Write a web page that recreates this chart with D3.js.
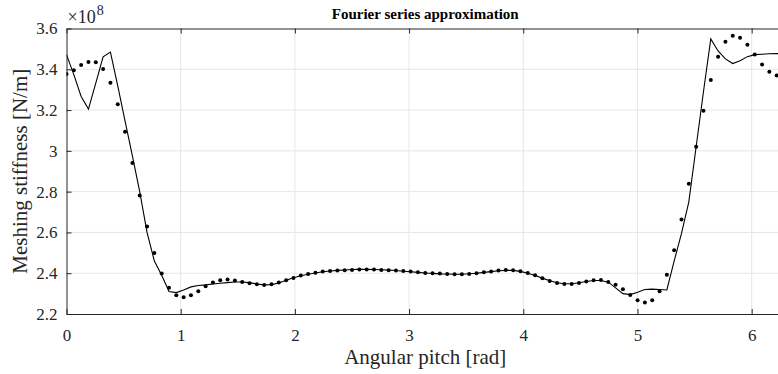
<!DOCTYPE html>
<html>
<head>
<meta charset="utf-8">
<script src="https://cdn.jsdelivr.net/npm/d3@7/dist/d3.min.js"></script>
<style>
  html, body { margin: 0; padding: 0; background: #fff; }
  svg { display: block; }
  svg text { font-family: "Liberation Serif", "Times New Roman", serif; }
</style>
</head>
<body>
<svg id="chart" width="778" height="374"></svg>
<script>
// Meshing stiffness over one angular pitch (units of 1e8 N/m), 99 samples from 0 to 2*pi
const sampleCount = 99;
const stiffnessSamples = [
  3.377, 3.395, 3.421, 3.436, 3.434, 3.402, 3.334, 3.229, 3.094, 2.940,
  2.781, 2.629, 2.499, 2.398, 2.329, 2.292, 2.282, 2.292, 2.311, 2.336,
  2.354, 2.366, 2.369, 2.364, 2.357, 2.351, 2.346, 2.342, 2.346, 2.354,
  2.366, 2.377, 2.389, 2.396, 2.402, 2.408, 2.411, 2.413, 2.415, 2.416,
  2.418, 2.418, 2.418, 2.416, 2.415, 2.413, 2.411, 2.408, 2.405, 2.401,
  2.400, 2.398, 2.396, 2.395, 2.395, 2.396, 2.400, 2.405, 2.408, 2.413,
  2.416, 2.415, 2.410, 2.401, 2.390, 2.375, 2.362, 2.352, 2.347, 2.347,
  2.352, 2.359, 2.366, 2.367, 2.357, 2.344, 2.321, 2.293, 2.267, 2.257,
  2.267, 2.311, 2.393, 2.513, 2.664, 2.839, 3.020, 3.197, 3.347, 3.462,
  3.535, 3.565, 3.555, 3.520, 3.472, 3.423, 3.388, 3.370, 3.365
];

// Fourier series approximation evaluated on the same angular grid
const fourierFit = [
  3.472, 3.374, 3.267, 3.205, 3.332, 3.461, 3.484, 3.319, 3.146, 2.975,
  2.800, 2.600, 2.460, 2.390, 2.310, 2.305, 2.318, 2.333, 2.340, 2.343,
  2.347, 2.351, 2.354, 2.357, 2.357, 2.354, 2.347, 2.343, 2.344, 2.352,
  2.366, 2.378, 2.388, 2.395, 2.401, 2.407, 2.411, 2.414, 2.416, 2.418,
  2.419, 2.419, 2.418, 2.417, 2.415, 2.413, 2.410, 2.407, 2.404, 2.401,
  2.399, 2.397, 2.396, 2.395, 2.395, 2.397, 2.400, 2.404, 2.408, 2.412,
  2.414, 2.414, 2.409, 2.400, 2.389, 2.376, 2.363, 2.353, 2.348, 2.348,
  2.353, 2.359, 2.364, 2.364, 2.356, 2.328, 2.300, 2.295, 2.307, 2.320,
  2.322, 2.320, 2.318, 2.460, 2.595, 2.750, 3.020, 3.290, 3.549, 3.490,
  3.451, 3.428, 3.442, 3.462, 3.472, 3.474, 3.476, 3.477, 3.477
];

const xTicks = [0, 1, 2, 3, 4, 5, 6];
const yTicks = [2.2, 2.4, 2.6, 2.8, 3.0, 3.2, 3.4, 3.6];
const xDomain = [0, 2 * Math.PI];
const yDomain = [2.2, 3.6];

const titleText = "Fourier series approximation";
const xLabelText = "Angular pitch [rad]";
const yLabelText = "Meshing stiffness [N/m]";

const angleAt = i => i * xDomain[1] / (sampleCount - 1);

const svg = d3.select("#chart");
const plot = { left: 66.5, right: 784, top: 28.5, bottom: 314 };
const serif = '"Liberation Serif", "Times New Roman", serif';

const x = d3.scaleLinear().domain(xDomain).range([plot.left, plot.right]);
const y = d3.scaleLinear().domain(yDomain).range([plot.bottom, plot.top]);

svg.append("defs").append("clipPath").attr("id", "plot-clip")
  .append("rect")
  .attr("x", plot.left).attr("y", plot.top - 3)
  .attr("width", plot.right - plot.left).attr("height", plot.bottom - plot.top + 6);

// grid
const grid = svg.append("g").attr("stroke", "#e6e6e6").attr("stroke-width", 1);
grid.selectAll("line.vx").data(xTicks.filter(d => d > 0)).join("line")
  .attr("x1", d => x(d)).attr("x2", d => x(d))
  .attr("y1", plot.top).attr("y2", plot.bottom);
grid.selectAll("line.hy").data(yTicks.filter(d => d > yDomain[0] && d < yDomain[1])).join("line")
  .attr("x1", plot.left).attr("x2", plot.right)
  .attr("y1", d => y(d)).attr("y2", d => y(d));

// axes with inward ticks
const axisColor = "#262626";
const fmtY = d => (Math.abs(d - Math.round(d)) < 1e-9 ? String(Math.round(d)) : d.toFixed(1));

const gx = svg.append("g").attr("transform", `translate(0,${plot.bottom})`)
  .call(d3.axisBottom(x).tickValues(xTicks).tickFormat(d3.format("d"))
    .tickSizeInner(-5).tickSizeOuter(0).tickPadding(15));
const gxTop = svg.append("g").attr("transform", `translate(0,${plot.top})`)
  .call(d3.axisTop(x).tickValues(xTicks).tickFormat("").tickSizeInner(-5).tickSizeOuter(0));
const gy = svg.append("g").attr("transform", `translate(${plot.left},0)`)
  .call(d3.axisLeft(y).tickValues(yTicks).tickFormat(fmtY)
    .tickSizeInner(-5).tickSizeOuter(0).tickPadding(9));

[gx, gxTop, gy].forEach(g => {
  g.attr("font-family", null).attr("font-size", null);
  g.select(".domain").attr("stroke", axisColor).attr("stroke-width", 1);
  g.selectAll(".tick line").attr("stroke", axisColor);
  g.selectAll(".tick text").attr("fill", axisColor)
    .style("font-family", serif).style("font-size", "17px");
});

// fitted curve
const line = d3.line().x((d, i) => x(angleAt(i))).y(d => y(d));
svg.append("path")
  .attr("clip-path", "url(#plot-clip)")
  .attr("d", line(fourierFit))
  .attr("fill", "none").attr("stroke", "#000").attr("stroke-width", 1.1)
  .attr("stroke-linejoin", "miter");

// sampled stiffness points
svg.append("g").attr("clip-path", "url(#plot-clip)")
  .selectAll("circle").data(stiffnessSamples).join("circle")
  .attr("cx", (d, i) => x(angleAt(i))).attr("cy", d => y(d))
  .attr("r", 2).attr("fill", "#000");

// exponent label
const ex = svg.append("text").attr("x", plot.left + 1).attr("y", 23)
  .style("font-size", "18px").attr("fill", axisColor);
ex.append("tspan").text("\u00d710");
ex.append("tspan").attr("dx", 1).attr("dy", -8).style("font-size", "14px").text("8");

// title and axis labels
svg.append("text").attr("x", (plot.left + plot.right) / 2).attr("y", 19)
  .attr("text-anchor", "middle").attr("font-weight", "bold").style("font-size", "15px")
  .attr("fill", "#000").text(titleText);
svg.append("text").attr("x", (plot.left + plot.right) / 2).attr("y", 364)
  .attr("text-anchor", "middle").style("font-size", "21px").attr("fill", axisColor)
  .text(xLabelText);
svg.append("text")
  .attr("transform", `translate(27,${(plot.top + plot.bottom) / 2}) rotate(-90)`)
  .attr("text-anchor", "middle").style("font-size", "21px").attr("fill", axisColor)
  .text(yLabelText);
</script>
</body>
</html>
